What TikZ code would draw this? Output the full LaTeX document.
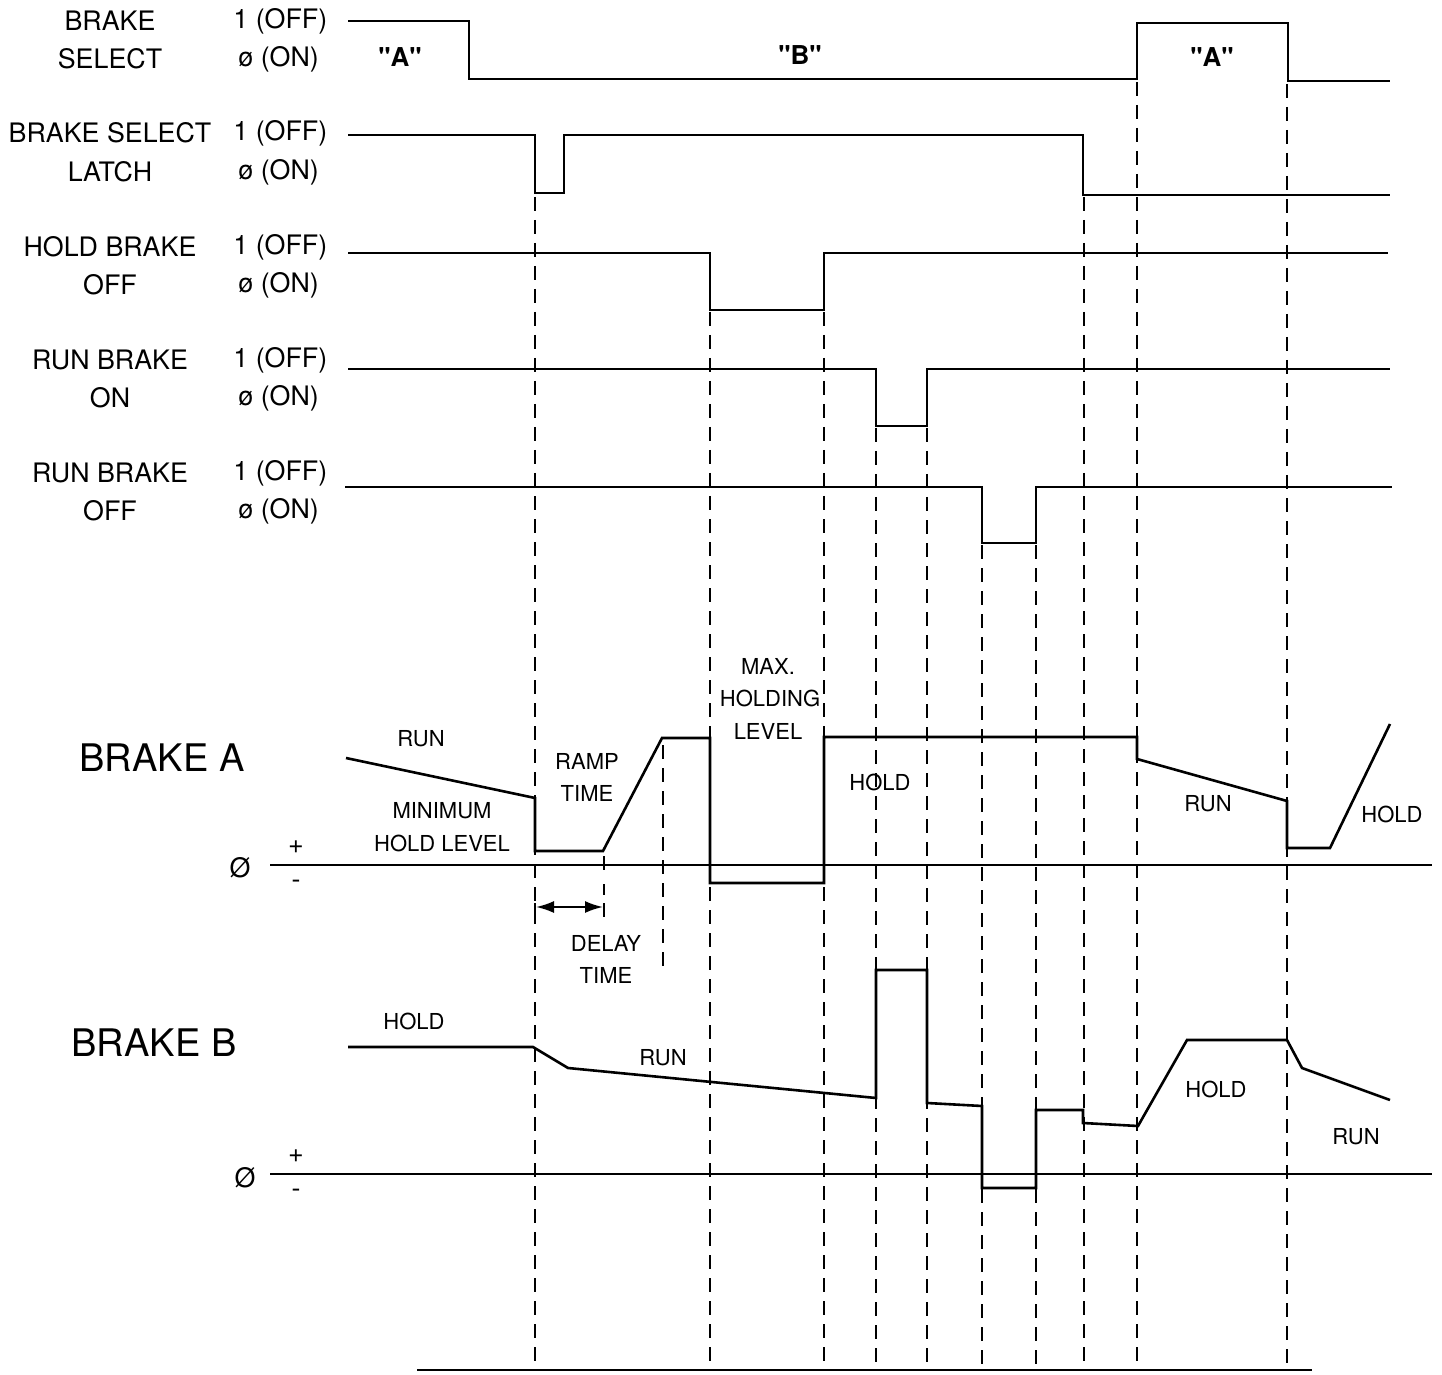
\documentclass[tikz,border=0pt]{standalone}
\usepackage{fontspec}
\setmainfont{TeX Gyre Heros}
\newfontfamily\qfont{TeX Gyre Heros}[Ligatures=TeXOff]
\usetikzlibrary{arrows.meta}
\begin{document}
\begin{tikzpicture}[x=0.5pt,y=-0.5pt,
  wave/.style={line width=1.3pt,line join=miter},
  guide/.style={line width=1pt,dash pattern=on 7pt off 4.5pt},
  axisline/.style={line width=1.1pt},
  lbl/.style={font=\fontsize{13.4}{15}\selectfont,inner sep=0pt},
  sm/.style={font=\fontsize{11}{13}\selectfont,inner sep=0pt},
  big/.style={font=\fontsize{19}{22}\selectfont,inner sep=0pt},
  quote/.style={font=\qfont\bfseries\fontsize{13}{15}\selectfont,inner sep=0pt}]
\useasboundingbox (0,0) rectangle (1442,1375);
\fill[white] (0,0) rectangle (1442,1375);

% ---- signal names ----
\node[lbl] (n1a) at (110,21) {BRAKE};
\node[lbl] (n1b) at (110,59) {SELECT};
\node[lbl] (n2a) at (110,133) {BRAKE SELECT};
\node[lbl] (n2b) at (110,172) {LATCH};
\node[lbl] (n3a) at (110,247) {HOLD BRAKE};
\node[lbl] (n3b) at (110,285) {OFF};
\node[lbl] (n4a) at (110,360) {RUN BRAKE};
\node[lbl] (n4b) at (110,398) {ON};
\node[lbl] (n5a) at (110,473) {RUN BRAKE};
\node[lbl] (n5b) at (110,511) {OFF};
\foreach \y/\n in {21/1,133/2,247/3,360/4,473/5}{
  \node[lbl,anchor=west] (hi\n) at (233,\y) {1 (OFF)};}
\foreach \y/\n in {59/1,172/2,285/3,398/4,511/5}{
  \node[lbl,anchor=west] (lo\n) at (238,\y) {ø (ON)};}

% ---- guide lines ----
\draw[guide] (535,197) -- (535,1370);
\draw[guide] (710,312) -- (710,1370);
\draw[guide] (824,312) -- (824,1370);
\draw[guide] (876,428) -- (876,1370);
\draw[guide] (927,428) -- (927,1370);
\draw[guide] (982,545) -- (982,1370);
\draw[guide] (1036,545) -- (1036,1370);
\draw[guide] (1084,197) -- (1084,1370);
\draw[guide] (1137,82) -- (1137,1370);
\draw[guide] (1287,84) -- (1287,1370);
\draw[guide] (663,745) -- (663,968);
\draw[line width=0.9pt] (604,856) -- (604,870) (604,884) -- (604,895) (604,903) -- (604,917);
\draw[line width=0.9pt] (535,903) -- (535,917);

% ---- digital waveforms ----
\draw[wave] (348,21) -- (469,21) -- (469,79) -- (1137,79) -- (1137,23) -- (1288,23) -- (1288,81) -- (1390,81);
\draw[wave] (348,135) -- (535,135) -- (535,193) -- (564,193) -- (564,135) -- (1083,135) -- (1083,195) -- (1390,195);
\draw[wave] (348,253) -- (710,253) -- (710,310) -- (824,310) -- (824,253) -- (1388,253);
\draw[wave] (348,369) -- (876,369) -- (876,426) -- (927,426) -- (927,369) -- (1390,369);
\draw[wave] (345,487) -- (982,487) -- (982,543) -- (1036,543) -- (1036,487) -- (1392,487);

\node[quote] (qa1) at (400,57) {"A"};
\node[quote] (qb) at (800,55) {"B"};
\node[quote] (qa2) at (1212,57) {"A"};

% ---- BRAKE A ----
\node[big] (ba) at (162,758) {BRAKE A};
\node[lbl] (za) at (240,868) {Ø};
\node[lbl] (pa) at (296,847) {+};
\node[lbl] (ma) at (296,884) {-};
\draw[axisline] (270,865) -- (1432,865);
\draw[wave] (346,758) -- (535,798) -- (535,851) -- (603,851) -- (662,738) -- (710,738) -- (710,883) -- (824,883) -- (824,737) -- (1137,737) -- (1137,759) -- (1287,801) -- (1287,848) -- (1330,848) -- (1390,724);
\draw[line width=1pt,{Latex[length=9pt,width=6pt]}-{Latex[length=9pt,width=6pt]}] (536,907) -- (603,907);

\node[sm] (ta1) at (421,739) {RUN};
\node[sm] (ta2) at (442,811) {MINIMUM};
\node[sm] (ta3) at (442,843) {HOLD LEVEL};
\node[sm] (ta4) at (587,761) {RAMP};
\node[sm] (ta5) at (587,793) {TIME};
\node[sm] (ta6) at (768,666) {MAX.};
\node[sm] (ta7) at (770,698) {HOLDING};
\node[sm] (ta8) at (768,731) {LEVEL};
\node[sm] (ta9) at (880,782) {HOLD};
\node[sm] (ta10) at (1208,804) {RUN};
\node[sm] (ta11) at (1392,814) {HOLD};
\node[sm] (ta12) at (606,943) {DELAY};
\node[sm] (ta13) at (606,975) {TIME};

% ---- BRAKE B ----
\node[big] (bb) at (154,1043) {BRAKE B};
\node[lbl] (zb) at (245,1178) {Ø};
\node[lbl] (pb) at (296,1156) {+};
\node[lbl] (mb) at (296,1193) {-};
\draw[axisline] (270,1174) -- (1432,1174);
\draw[wave] (348,1047) -- (533,1047) -- (568,1068) -- (876,1098) -- (876,970) -- (927,970) -- (927,1103) -- (982,1106) -- (982,1188) -- (1036,1188) -- (1036,1110) -- (1083,1110) -- (1083,1123) -- (1138,1126) -- (1187,1040) -- (1287,1040) -- (1302,1068) -- (1390,1100);

\node[sm] (tb1) at (414,1021) {HOLD};
\node[sm] (tb2) at (663,1058) {RUN};
\node[sm] (tb3) at (1216,1089) {HOLD};
\node[sm] (tb4) at (1356,1137) {RUN};

\draw[line width=1.4pt] (417,1370) -- (1312,1370);
\end{tikzpicture}
\end{document}
